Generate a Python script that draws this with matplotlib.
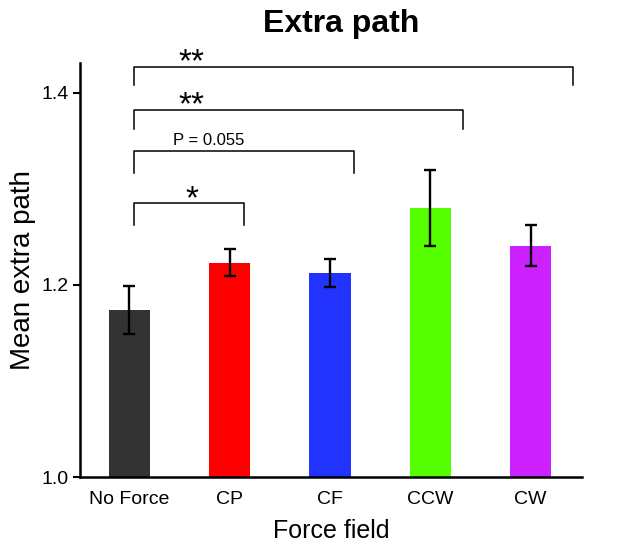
import numpy as np
import matplotlib
matplotlib.use("Agg")
import matplotlib.pyplot as plt

plt.rcParams['font.family'] = ['Liberation Sans', 'DejaVu Sans']

# data
fields = ['No Force', 'CP', 'CF', 'CCW', 'CW']
means = [1.174, 1.223, 1.212, 1.280, 1.241]
errs = [0.025, 0.014, 0.0145, 0.040, 0.021]
colors = ['#333333', '#ff0000', '#2233ff', '#55ff00', '#cc22ff']

# significance brackets: (x start, x end, y of bar, y of tick ends, label)
brackets = [
    (0.05, 1.14, 1.285, 1.262, '*'),
    (0.05, 2.24, 1.339, 1.316, 'P = 0.055'),
    (0.05, 3.33, 1.382, 1.362, '**'),
    (0.05, 4.42, 1.427, 1.408, '**'),
]

fig = plt.figure(figsize=(6.31, 5.43), dpi=100)
ax = fig.add_axes([0.127, 0.1215, 0.795, 0.7625])

x = np.arange(len(fields))
ax.bar(x, means, width=0.41, color=colors, zorder=2)
ax.errorbar(x, means, yerr=errs, fmt='none', ecolor='black',
            elinewidth=1.7, capsize=4.5, capthick=1.7, zorder=3)

for x0, x1, yb, yt, lab in brackets:
    ax.plot([x0, x0, x1, x1], [yt, yb, yb, yt], color='black', lw=1.1,
            clip_on=False, zorder=4)
    if lab.startswith('P'):
        ax.text(0.79, yb + 0.004, lab, ha='center', va='bottom', fontsize=12)
    else:
        ax.text(0.62, yb - 0.012, lab, ha='center', va='bottom', fontsize=24)

ax.set_xlim(-0.49, 4.51)
ax.set_ylim(1.0, 1.431)
ax.set_yticks([1.0, 1.2, 1.4])
ax.set_xticks(x)
ax.set_xticklabels(fields)
ax.tick_params(axis='x', length=0, labelsize=14, pad=10)
ax.tick_params(axis='y', length=5, width=1.5, labelsize=14)
for s in ['top', 'right']:
    ax.spines[s].set_visible(False)
for s in ['left', 'bottom']:
    ax.spines[s].set_linewidth(1.8)

ax.set_xlabel('Force field', fontsize=18, labelpad=8)
ax.set_ylabel('Mean extra path', fontsize=20, labelpad=4)
fig.text(0.54, 0.955, 'Extra path', ha='center', va='center',
         fontsize=23, fontweight='bold')

fig.savefig('out.png', dpi=100)
